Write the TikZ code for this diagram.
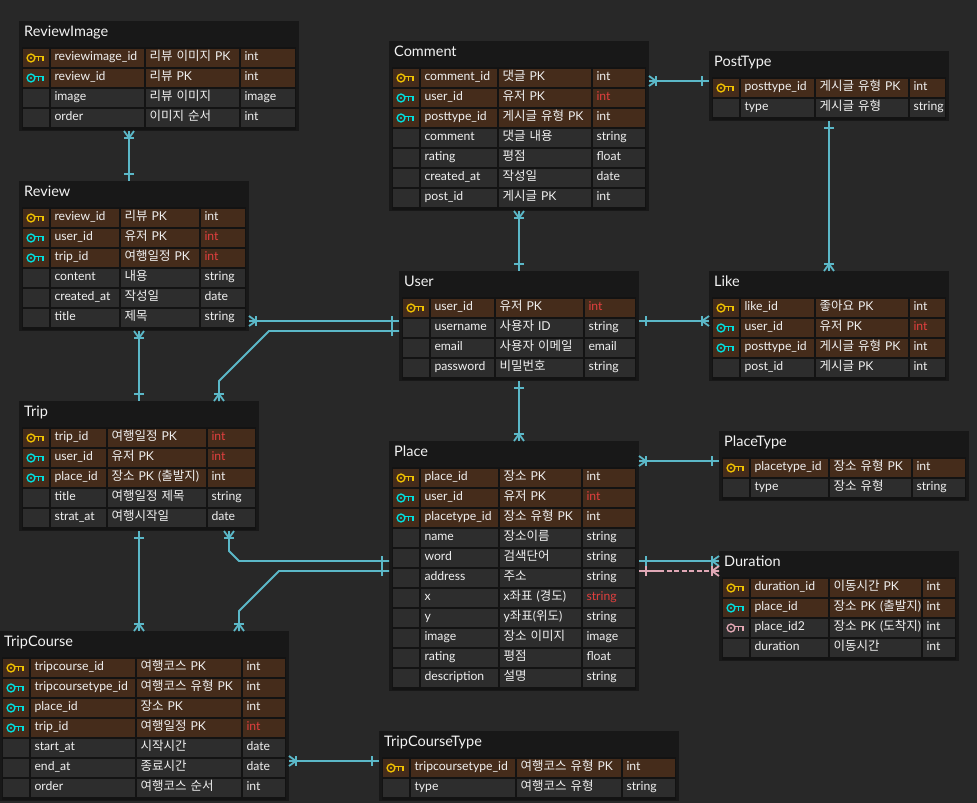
\documentclass[tikz,border=0pt]{standalone}
\usepackage{fontspec}
\setmainfont{Lato}
\newfontfamily\krfont{Noto Sans CJK KR}
\usetikzlibrary{calc}
\definecolor{bgc}{HTML}{282828}
\definecolor{outerc}{HTML}{181818}
\definecolor{innerc}{HTML}{131313}
\definecolor{keyrow}{HTML}{452C1B}
\definecolor{plainrow}{HTML}{2D2D2D}
\definecolor{txt}{HTML}{F0F0F0}
\definecolor{redt}{HTML}{E2403F}
\definecolor{goldk}{HTML}{F2C200}
\definecolor{cyank}{HTML}{00E0E0}
\definecolor{pinkk}{HTML}{E6A8B4}
\definecolor{conn}{HTML}{5BB8C8}
\definecolor{connp}{HTML}{E0A8B6}
\newcommand\kt[1]{{\krfont\fontsize{12.5}{14}\selectfont #1}}
\newcommand\rd[1]{\textcolor{redt}{#1}}
\newcount\rowno
\tikzset{
  tablebox/.style={draw=none,fill=outerc,inner sep=0pt,outer sep=0pt,anchor=north west},
  innerbox/.style={draw=none,fill=innerc,inner sep=0pt,outer sep=0pt,anchor=north west},
  ttl/.style={text=white!95!black,inner sep=0pt,anchor=base west,font=\fontsize{14.5}{16}\selectfont},
  cell/.style={draw=none,inner xsep=3.5pt,inner ysep=0pt,outer sep=0pt,anchor=north west,text=txt,
    text height=11pt,text depth=7pt,align=left,font=\fontsize{12.2}{14}\selectfont},
  linkline/.style={draw=#1,line width=1.8pt,line cap=butt,line join=miter},
  linkline/.default=conn
}
% \tbl{name}{x}{y}{width}{rows}{name col}{comment col}{type col}
\newcommand\tbl[8]{%
  \def\tn{#1}\def\tx{#2}\def\ty{#3}\def\tw{#4}%
  \def\cn{#6}\def\cc{#7}\def\ct{#8}%
  \global\rowno=0
  \pgfmathsetmacro\th{30+20*#5}%
  \pgfmathsetmacro\iw{#4-6}\pgfmathsetmacro\ih{\th-27}%
  \pgfmathsetmacro\ix{#2+3}\pgfmathsetmacro\iy{#3+26}%
  \node[tablebox,minimum width=#4pt,minimum height=\th pt] (#1) at (#2,#3) {};
  \node[innerbox,minimum width=\iw pt,minimum height=\ih pt] (#1-body) at (\ix,\iy) {};
  \pgfmathsetmacro\tix{#2+5}\pgfmathsetmacro\tiy{#3+15}%
  \node[ttl] (#1-title) at (\tix,\tiy) {#1};
}
\newcommand\keyicon[3]{% x y colour
  \begin{scope}[shift={(#1,#2)},draw=#3,line width=1.35pt]
    \draw (8,9) circle[radius=3.9];
    \fill[#3] (8,9) circle[radius=1.2];
    \draw (11.8,7.8) -- (20,7.8) -- (20,11.5);
    \draw (15.8,7.8) -- (15.8,12);
  \end{scope}}
% \rw{kind}{name}{comment}{type}: kind g,c,p,n
\newcommand\rw[4]{%
  \global\advance\rowno by 1
  \pgfmathsetmacro\ry{\ty+28+20*(\the\rowno-1)}%
  \pgfmathsetmacro\ax{\tx+4}%
  \pgfmathsetmacro\wn{\cc-\cn-9.5}%
  \pgfmathsetmacro\wc{\ct-\cc-9.5}%
  \pgfmathsetmacro\wt{\tx+\tw-4-\ct-7}%
  \def\kd{#1}\def\kg{g}\def\kc{c}\def\kp{p}%
  \def\rc{plainrow}%
  \ifx\kd\kg\def\rc{keyrow}\fi
  \ifx\kd\kc\def\rc{keyrow}\fi
  \node[cell,fill=\rc,text width=19pt] (\tn-\the\rowno-k) at (\ax,\ry) {};
  \node[cell,fill=\rc,text width=\wn pt] (\tn-\the\rowno-n) at (\cn,\ry) {\mbox{#2}};
  \node[cell,fill=\rc,text width=\wc pt] (\tn-\the\rowno-c) at (\cc,\ry) {\mbox{#3}};
  \node[cell,fill=\rc,text width=\wt pt] (\tn-\the\rowno-t) at (\ct,\ry) {\mbox{#4}};
  \ifx\kd\kg\keyicon{\ax}{\ry}{goldk}\fi
  \ifx\kd\kc\keyicon{\ax}{\ry}{cyank}\fi
  \ifx\kd\kp\keyicon{\ax}{\ry}{pinkk}\fi
}
% crow foot: edge point, angle (canvas: 0 right, 90 up, 180 left, 270 down), colour
\newcommand\crow[3][conn]{%
  \begin{scope}[shift={#2},rotate=#3,draw=#1,line width=1.8pt]
    \draw (7,-5) -- (7,5);
    \draw (7,0) -- (0,-5);
    \draw (7,0) -- (0,0);
    \draw (7,0) -- (0,5);
  \end{scope}}
\newcommand\onebar[3][conn]{%
  \begin{scope}[shift={#2},rotate=#3,draw=#1,line width=1.8pt]
    \draw (7,-5) -- (7,5);
  \end{scope}}
\begin{document}
\begin{tikzpicture}[x=1pt,y=-1pt]
\useasboundingbox (0,0) rectangle (977,803);
\fill[bgc] (0,0) rectangle (977,803);

\tbl{ReviewImage}{19}{21}{280}{4}{51}{146}{241}
\rw{g}{reviewimage\_id}{\kt{리뷰 이미지} PK}{int}
\rw{c}{review\_id}{\kt{리뷰} PK}{int}
\rw{n}{image}{\kt{리뷰 이미지}}{image}
\rw{n}{order}{\kt{이미지 순서}}{int}

\tbl{Review}{19}{181}{230}{6}{51}{121}{201}
\rw{g}{review\_id}{\kt{리뷰} PK}{int}
\rw{c}{user\_id}{\kt{유저} PK}{\rd{int}}
\rw{c}{trip\_id}{\kt{여행일정} PK}{\rd{int}}
\rw{n}{content}{\kt{내용}}{string}
\rw{n}{created\_at}{\kt{작성일}}{date}
\rw{n}{title}{\kt{제목}}{string}

\tbl{Trip}{19}{401}{240}{5}{51}{108}{208}
\rw{g}{trip\_id}{\kt{여행일정} PK}{\rd{int}}
\rw{c}{user\_id}{\kt{유저} PK}{\rd{int}}
\rw{c}{place\_id}{\kt{장소} PK (\kt{출발지})}{int}
\rw{n}{title}{\kt{여행일정 제목}}{string}
\rw{n}{strat\_at}{\kt{여행시작일}}{date}

\tbl{TripCourse}{-1}{631}{290}{7}{31}{137}{243}
\rw{g}{tripcourse\_id}{\kt{여행코스} PK}{int}
\rw{c}{tripcoursetype\_id}{\kt{여행코스 유형} PK}{int}
\rw{c}{place\_id}{\kt{장소} PK}{int}
\rw{c}{trip\_id}{\kt{여행일정} PK}{\rd{int}}
\rw{n}{start\_at}{\kt{시작시간}}{date}
\rw{n}{end\_at}{\kt{종료시간}}{date}
\rw{n}{order}{\kt{여행코스 순서}}{int}

\tbl{TripCourseType}{379}{731}{300}{2}{411}{517}{623}
\rw{g}{tripcoursetype\_id}{\kt{여행코스 유형} PK}{int}
\rw{n}{type}{\kt{여행코스 유형}}{string}

\tbl{Comment}{389}{41}{260}{7}{421}{499}{593}
\rw{g}{comment\_id}{\kt{댓글} PK}{int}
\rw{c}{user\_id}{\kt{유저} PK}{\rd{int}}
\rw{c}{posttype\_id}{\kt{게시글 유형} PK}{int}
\rw{n}{comment}{\kt{댓글 내용}}{string}
\rw{n}{rating}{\kt{평점}}{float}
\rw{n}{created\_at}{\kt{작성일}}{date}
\rw{n}{post\_id}{\kt{게시글} PK}{int}

\tbl{PostType}{709}{51}{240}{2}{741}{816}{910}
\rw{g}{posttype\_id}{\kt{게시글 유형} PK}{int}
\rw{n}{type}{\kt{게시글 유형}}{string}

\tbl{User}{399}{271}{240}{4}{431}{496}{585}
\rw{g}{user\_id}{\kt{유저} PK}{\rd{int}}
\rw{n}{username}{\kt{사용자} ID}{string}
\rw{n}{email}{\kt{사용자 이메일}}{email}
\rw{n}{password}{\kt{비밀번호}}{string}

\tbl{Like}{709}{271}{240}{4}{741}{816}{910}
\rw{g}{like\_id}{\kt{좋아요} PK}{int}
\rw{c}{user\_id}{\kt{유저} PK}{\rd{int}}
\rw{c}{posttype\_id}{\kt{게시글 유형} PK}{int}
\rw{n}{post\_id}{\kt{게시글} PK}{int}

\tbl{Place}{389}{441}{250}{11}{421}{500}{583}
\rw{g}{place\_id}{\kt{장소} PK}{int}
\rw{c}{user\_id}{\kt{유저} PK}{\rd{int}}
\rw{c}{placetype\_id}{\kt{장소 유형} PK}{int}
\rw{n}{name}{\kt{장소이름}}{string}
\rw{n}{word}{\kt{검색단어}}{string}
\rw{n}{address}{\kt{주소}}{string}
\rw{n}{x}{x\kt{좌표} (\kt{경도})}{\rd{string}}
\rw{n}{y}{y\kt{좌표}(\kt{위도})}{string}
\rw{n}{image}{\kt{장소 이미지}}{image}
\rw{n}{rating}{\kt{평점}}{float}
\rw{n}{description}{\kt{설명}}{string}

\tbl{PlaceType}{719}{431}{250}{2}{751}{830}{913}
\rw{g}{placetype\_id}{\kt{장소 유형} PK}{int}
\rw{n}{type}{\kt{장소 유형}}{string}

\tbl{Duration}{719}{551}{240}{4}{751}{830}{923}
\rw{g}{duration\_id}{\kt{이동시간} PK}{int}
\rw{c}{place\_id}{\kt{장소} PK (\kt{출발지})}{int}
\rw{p}{place\_id2}{\kt{장소} PK (\kt{도착지})}{int}
\rw{n}{duration}{\kt{이동시간}}{int}

% connectors
\coordinate (riB) at ($(ReviewImage.south west)+(110,0)$);
\coordinate (rvT) at ($(Review.north west)+(110,0)$);
\draw[linkline] (riB) -- (rvT);
\crow{(riB)}{270}\onebar{(rvT)}{90}

\coordinate (cmR) at ($(Comment.north east)+(0,40)$);
\coordinate (ptL) at ($(PostType.north west)+(0,30)$);
\draw[linkline] (cmR) -- (ptL);
\crow{(cmR)}{0}\onebar{(ptL)}{180}

\coordinate (ptB) at ($(PostType.south west)+(120,0)$);
\coordinate (lkT) at ($(Like.north west)+(120,0)$);
\draw[linkline] (ptB) -- (lkT);
\onebar{(ptB)}{270}\crow{(lkT)}{90}

\coordinate (cmB) at ($(Comment.south west)+(130,0)$);
\coordinate (usT) at ($(User.north west)+(120,0)$);
\draw[linkline] (cmB) -- (usT);
\crow{(cmB)}{270}\onebar{(usT)}{90}

\coordinate (usR) at ($(User.north east)+(0,50)$);
\coordinate (lkL) at ($(Like.north west)+(0,50)$);
\draw[linkline] (usR) -- (lkL);
\onebar{(usR)}{0}\crow{(lkL)}{180}

\coordinate (usL1) at ($(User.north west)+(0,50)$);
\coordinate (rvR) at ($(Review.north east)+(0,140)$);
\draw[linkline] (usL1) -- (rvR);
\onebar{(usL1)}{180}\crow{(rvR)}{0}

\coordinate (usL2) at ($(User.north west)+(0,60)$);
\coordinate (tpT2) at ($(Trip.north west)+(200,0)$);
\draw[linkline] (usL2) -- (269,331) -- (219,381) -- (tpT2);
\onebar{(usL2)}{180}\crow{(tpT2)}{90}

\coordinate (rvB) at ($(Review.south west)+(120,0)$);
\coordinate (tpT1) at ($(Trip.north west)+(120,0)$);
\draw[linkline] (rvB) -- (tpT1);
\crow{(rvB)}{270}\onebar{(tpT1)}{90}

\coordinate (tpB1) at ($(Trip.south west)+(120,0)$);
\coordinate (tcT1) at ($(TripCourse.north west)+(140,0)$);
\draw[linkline] (tpB1) -- (tcT1);
\onebar{(tpB1)}{270}\crow{(tcT1)}{90}

\coordinate (plL1) at ($(Place.north west)+(0,120)$);
\coordinate (tpB2) at ($(Trip.south west)+(210,0)$);
\draw[linkline] (plL1) -- (239,561) -- (229,551) -- (tpB2);
\onebar{(plL1)}{180}\crow{(tpB2)}{270}

\coordinate (plL2) at ($(Place.north west)+(0,130)$);
\coordinate (tcT2) at ($(TripCourse.north west)+(240,0)$);
\draw[linkline] (plL2) -- (279,571) -- (239,611) -- (tcT2);
\onebar{(plL2)}{180}\crow{(tcT2)}{90}

\coordinate (usB) at ($(User.south west)+(120,0)$);
\coordinate (plT) at ($(Place.north west)+(130,0)$);
\draw[linkline] (usB) -- (plT);
\onebar{(usB)}{270}\crow{(plT)}{90}

\coordinate (plR1) at ($(Place.north east)+(0,20)$);
\coordinate (pyL) at ($(PlaceType.north west)+(0,30)$);
\draw[linkline] (plR1) -- (pyL);
\crow{(plR1)}{0}\onebar{(pyL)}{180}

\coordinate (plR2) at ($(Place.north east)+(0,120)$);
\coordinate (duL1) at ($(Duration.north west)+(0,10)$);
\draw[linkline] (plR2) -- (duL1);
\onebar{(plR2)}{0}\crow{(duL1)}{180}

\coordinate (plR3) at ($(Place.north east)+(0,130)$);
\coordinate (plR3b) at ($(plR3)+(20,0)$);
\coordinate (duL2) at ($(Duration.north west)+(0,20)$);
\draw[linkline=connp] (plR3) -- (plR3b);
\draw[linkline=connp,dash pattern=on 5pt off 2.5pt] (plR3b) -- (duL2);
\onebar[connp]{(plR3)}{0}\crow[connp]{(duL2)}{180}

\coordinate (tcR) at ($(TripCourse.north east)+(0,130)$);
\coordinate (tyL) at ($(TripCourseType.north west)+(0,30)$);
\draw[linkline] (tcR) -- (tyL);
\crow{(tcR)}{0}\onebar{(tyL)}{180}
\end{tikzpicture}
\end{document}
